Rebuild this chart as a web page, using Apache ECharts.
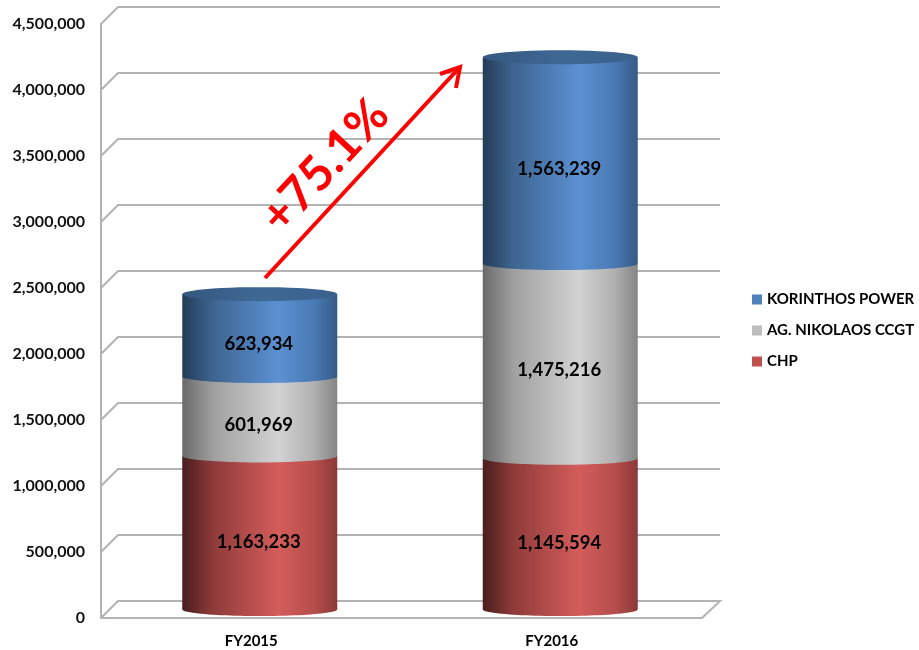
<!DOCTYPE html>
<html><head><meta charset="utf-8">
<style>html,body{margin:0;padding:0;background:#fff}#c{width:919px;height:650px}</style>
<script src="https://cdn.jsdelivr.net/npm/echarts@6/dist/echarts.min.js"></script>
</head><body><div id="c"></div>
<script>
const categories = ['FY2015', 'FY2016'];
const chp = [1163233, 1145594];
const agNikolaos = [601969, 1475216];
const korinthos = [623934, 1563239];
const gridTicks = [0, 500000, 1000000, 1500000, 2000000, 2500000, 3000000, 3500000, 4000000, 4500000];
const changeLabel = '+75.1%';

const FONT = 'Lato, "Open Sans", sans-serif';
const DEPTH = 17, BAR_SHIFT = 8.5, BAR_RATIO = 155 / 300.5, RY = 6.5;
const grad = (stops) => ({type:'linear', x:0, y:0, x2:1, y2:0,
  colorStops: stops.map(s => ({offset:s[0], color:s[1]}))});
const styles = {
  chp: grad([[0,'#4a1e1e'],[0.2,'#8f3b3a'],[0.62,'#d35d5b'],[0.85,'#b64e4c'],[1,'#8a3a39']]),
  ag:  grad([[0,'#6a6a6a'],[0.2,'#a0a0a0'],[0.62,'#d2d2d2'],[0.85,'#b0b0b0'],[1,'#858585']]),
  kor: grad([[0,'#233c57'],[0.2,'#3e6590'],[0.62,'#5b90d2'],[0.85,'#4a7ab4'],[1,'#355a84']])
};
const arc = (cx, cy, rx, ry, from, to) => {
  const pts = [];
  for (let i = 0; i <= 48; i++) {
    const t = from + (to - from) * i / 48;
    pts.push([cx + rx * Math.cos(t), cy + ry * Math.sin(t)]);
  }
  return pts;
};
function cylinder(lower, values, fill, lid) {
  return function (params, api) {
    const i = api.value(0);
    const base = lower.reduce((s, arr) => s + arr[i], 0);
    const v = values[i];
    const band = api.size([1, 0])[0];
    const rx = band * BAR_RATIO / 2;
    const p0 = api.coord([i, base]), p1 = api.coord([i, base + v]);
    const cx = p0[0] + BAR_SHIFT, y0 = p0[1] - BAR_SHIFT, y1 = p1[1] - BAR_SHIFT;
    const pts = [[cx - rx, y1]].concat(arc(cx, y0, rx, RY, Math.PI, 0), [[cx + rx, y1]]);
    const children = [{type:'polygon', shape:{points:pts}, style:{fill}}];
    if (lid) {
      children.push({type:'polygon', shape:{points:arc(cx, y1, rx, RY + 0.5, 0, Math.PI * 2)},
        style:{fill:grad([[0,'#34587f'],[0.5,'#3f6895'],[1,'#3a618c'] ])}});
    }
    children.push({type:'text', style:{
      text: v.toLocaleString('en-US'), x: cx - 1, y: (y0 + y1) / 2 + 9,
      align:'center', verticalAlign:'middle',
      font:'bold 18.5px ' + FONT, fill:'#000'}, z2: 10});
    return {type:'group', children};
  };
}
function gridRender(params, api) {
  const v = api.value(1);
  const c = params.coordSys;
  const y = api.coord([0, v])[1];
  const left = c.x, right = c.x + c.width;
  const pts = [[left, y], [left + DEPTH, y - DEPTH], [right + DEPTH + 1, y - DEPTH]];
  if (v === 0) pts.push([right, y]);
  return {type:'polyline', shape:{points:pts},
    style:{stroke:'#b3b3b3', lineWidth:2, fill:'none'}};
}
const catData = categories.map((c, i) => [i]);
const chart = echarts.init(document.getElementById('c'));
chart.setOption({
  animation:false,
  backgroundColor:'#fff',
  grid:{left:101, top:24, width:601, height:594, containLabel:false},
  legend:{
    data:['KORINTHOS POWER','AG. NIKOLAOS CCGT','CHP'],
    orient:'vertical', left:752, top:292, icon:'rect', padding:0,
    itemWidth:10, itemHeight:10, itemGap:16,
    textStyle:{fontFamily:FONT, fontWeight:'bold', fontSize:15, color:'#000'}
  },
  xAxis:{type:'category', data:categories,
    axisLine:{lineStyle:{color:'#b3b3b3', width:2}}, axisTick:{show:false},
    axisLabel:{fontFamily:FONT, fontWeight:'bold', fontSize:15, color:'#000', margin:16},
    splitLine:{show:false}},
  yAxis:{type:'value', min:0, max:4500000, interval:500000,
    axisLine:{show:true, lineStyle:{color:'#b3b3b3', width:2}}, axisTick:{show:false},
    axisLabel:{fontFamily:FONT, fontWeight:'bold', fontSize:16, color:'#111', margin:16,
      padding:[4,0,0,0], formatter:(v) => v.toLocaleString('en-US')},
    splitLine:{show:false}},
  series:[
    {type:'custom', name:'grid', silent:true, renderItem:gridRender, z:1,
      encode:{x:0, y:1}, data:gridTicks.map(v => [0, v])},
    {type:'custom', name:'CHP', itemStyle:{color:'#c0504d'}, z:2, encode:{x:0},
      renderItem:cylinder([], chp, styles.chp, false), data:catData},
    {type:'custom', name:'AG. NIKOLAOS CCGT', itemStyle:{color:'#bdbdbd'}, z:3, encode:{x:0},
      renderItem:cylinder([chp], agNikolaos, styles.ag, false), data:catData},
    {type:'custom', name:'KORINTHOS POWER', itemStyle:{color:'#4f81bd'}, z:4, encode:{x:0},
      renderItem:cylinder([chp, agNikolaos], korinthos, styles.kor, true), data:catData}
  ],
  graphic:[
    {type:'polyline', z:20, silent:true, shape:{points:[[265,278],[460,67]]},
      style:{stroke:'#ff0000', lineWidth:4, fill:'none'}},
    {type:'polyline', z:20, silent:true, shape:{points:[[440,74],[460,67],[456,88]]},
      style:{stroke:'#ff0000', lineWidth:4, fill:'none'}},
    {type:'text', z:20, silent:true, x:325, y:166, rotation:47*Math.PI/180,
      style:{text:changeLabel, font:'bold 48px ' + FONT, fill:'#ff0000', align:'center', verticalAlign:'middle'}}
  ]
});
</script></body></html>
